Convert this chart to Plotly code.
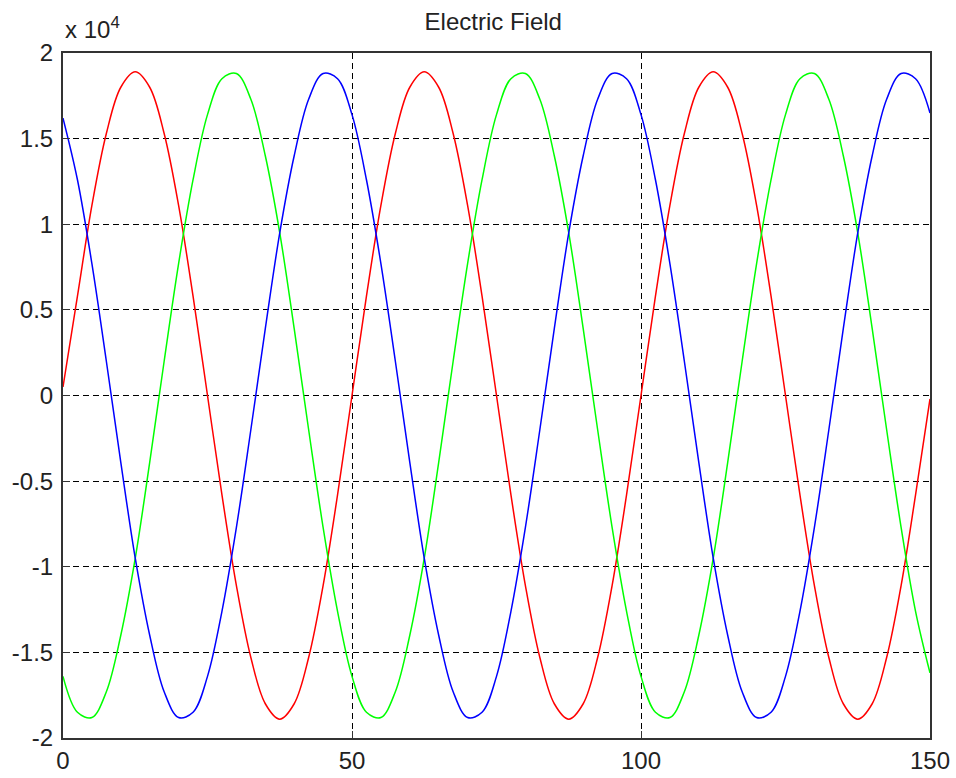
import plotly.graph_objects as go

x_vals = [0, 2.5, 5, 7.5, 10, 12.5, 15, 17.5, 20, 22.5, 25, 27.5, 30, 32.5, 35, 37.5, 40, 42.5, 45, 47.5,
          50, 52.5, 55, 57.5, 60, 62.5, 65, 67.5, 70, 72.5, 75, 77.5, 80, 82.5, 85, 87.5, 90, 92.5, 95, 97.5,
          100, 102.5, 105, 107.5, 110, 112.5, 115, 117.5, 120, 122.5, 125, 127.5, 130, 132.5, 135, 137.5, 140, 142.5, 145, 147.5,
          150]

# values in units of 1e4
red_vals = [0.05, 0.58, 1.11, 1.53, 1.80, 1.89, 1.80, 1.53, 1.11, 0.58, 0, -0.58, -1.11, -1.53, -1.80, -1.89, -1.80, -1.53, -1.11, -0.58,
            0, 0.58, 1.11, 1.53, 1.80, 1.89, 1.80, 1.53, 1.11, 0.58, 0, -0.58, -1.11, -1.53, -1.80, -1.89, -1.80, -1.53, -1.11, -0.58,
            0, 0.58, 1.11, 1.53, 1.80, 1.89, 1.80, 1.53, 1.11, 0.58, 0, -0.58, -1.11, -1.53, -1.80, -1.89, -1.80, -1.53, -1.11, -0.58,
            -0.02]
green_vals = [-1.64, -1.85, -1.88, -1.73, -1.40, -0.95, -0.39, 0.20, 0.77, 1.26, 1.64, 1.85, 1.88, 1.73, 1.40, 0.95, 0.39, -0.20, -0.77, -1.26,
              -1.64, -1.85, -1.88, -1.73, -1.40, -0.95, -0.39, 0.20, 0.77, 1.26, 1.64, 1.85, 1.88, 1.73, 1.40, 0.95, 0.39, -0.20, -0.77, -1.26,
              -1.64, -1.85, -1.88, -1.73, -1.40, -0.95, -0.39, 0.20, 0.77, 1.26, 1.64, 1.85, 1.88, 1.73, 1.40, 0.95, 0.39, -0.20, -0.77, -1.26,
              -1.62]
blue_vals = [1.62, 1.26, 0.77, 0.20, -0.39, -0.95, -1.40, -1.73, -1.88, -1.85, -1.64, -1.26, -0.77, -0.20, 0.39, 0.95, 1.40, 1.73, 1.88, 1.85,
             1.64, 1.26, 0.77, 0.20, -0.39, -0.95, -1.40, -1.73, -1.88, -1.85, -1.64, -1.26, -0.77, -0.20, 0.39, 0.95, 1.40, 1.73, 1.88, 1.85,
             1.64, 1.26, 0.77, 0.20, -0.39, -0.95, -1.40, -1.73, -1.88, -1.85, -1.64, -1.26, -0.77, -0.20, 0.39, 0.95, 1.40, 1.73, 1.88, 1.85,
             1.65]

x_ticks = [0, 50, 100, 150]
y_ticks = [-2, -1.5, -1, -0.5, 0, 0.5, 1, 1.5, 2]
y_tick_labels = ["-2", "-1.5", "-1", "-0.5", "0", "0.5", "1", "1.5", "2"]

FONT = "Liberation Sans, Arial, sans-serif"

fig = go.Figure()
for vals, color in [(red_vals, "#ff0000"), (green_vals, "#00ff00"), (blue_vals, "#0000ff")]:
    fig.add_trace(go.Scatter(x=x_vals, y=vals, mode="lines",
                             line=dict(color=color, width=1.5, shape="spline", smoothing=1.0),
                             showlegend=False, hoverinfo="skip"))

axis_common = dict(showline=True, linecolor="#333333", linewidth=2, mirror=True,
                   showgrid=True, gridcolor="black", griddash="6px,4px", gridwidth=1,
                   zeroline=False, ticks="inside", ticklen=7, tickcolor="#333333", tickwidth=1,
                   automargin=False,
                   tickfont=dict(family=FONT, size=24, color="#222222"))

fig.update_xaxes(range=[0, 150], tickvals=x_ticks, ticktext=[str(t) for t in x_ticks],
                 ticklabelstandoff=0, **axis_common)
fig.update_yaxes(range=[-2, 2], tickvals=y_ticks, ticktext=y_tick_labels,
                 ticklabelstandoff=3, **axis_common)

fig.update_layout(
    width=956, height=778,
    margin=dict(l=63, r=26, t=53, b=40),
    paper_bgcolor="white", plot_bgcolor="white",
    title=dict(text="Electric Field", x=0.516, xanchor="center", y=0.972, yanchor="middle",
               font=dict(family=FONT, size=24, color="#222222")),
    annotations=[dict(text="x 10<sup>4</sup>", xref="paper", yref="paper", x=0.0, y=1.0,
                      xanchor="left", yanchor="bottom", yshift=8, showarrow=False,
                      font=dict(family=FONT, size=24, color="#222222"))],
)

fig.write_html("out.html", config={"displayModeBar": False},
               post_script="document.body.style.margin='0px';")
